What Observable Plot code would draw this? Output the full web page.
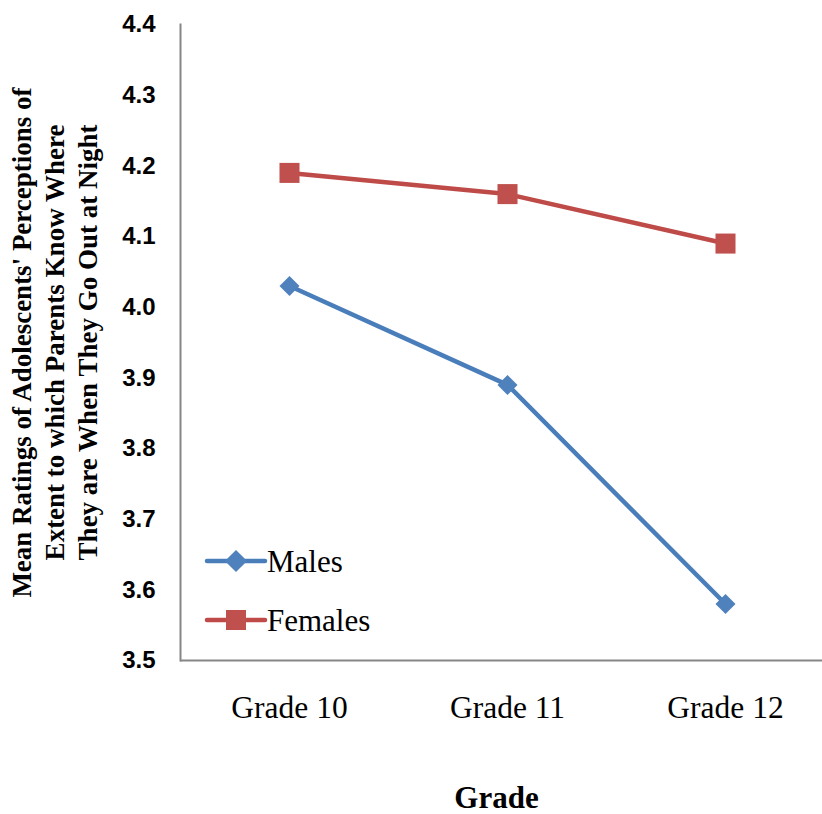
<!DOCTYPE html>
<html>
<head>
<meta charset="utf-8">
<script src="https://cdn.jsdelivr.net/npm/d3@7"></script>
<script src="https://cdn.jsdelivr.net/npm/@observablehq/plot@0.6"></script>
<style>
  html, body { margin: 0; padding: 0; background: #fff; }
  #chart { width: 822px; height: 814px; }
</style>
</head>
<body>
<div id="chart"></div>
<script>
// Mean ratings by grade, one series per gender
const grades = ["Grade 10", "Grade 11", "Grade 12"];
const males = [4.03, 3.89, 3.58];
const females = [4.19, 4.16, 4.09];
const series = ["Males", "Females"];
const yTicks = [3.5, 3.6, 3.7, 3.8, 3.9, 4.0, 4.1, 4.2, 4.3, 4.4];

const colors = {Males: "#4a7ebb", Females: "#be4b48"};
const fills = {Males: "#4f81bd", Females: "#c0504d"};

const maleRows = grades.map((g, i) => ({grade: g, value: males[i]}));
const femaleRows = grades.map((g, i) => ({grade: g, value: females[i]}));

const serif = "'Liberation Serif', 'Times New Roman', serif";
const sans = "'Liberation Sans', Arial, sans-serif";

const chart = Plot.plot({
  width: 822,
  height: 814,
  marginLeft: 180,
  marginRight: 0,
  marginTop: 24,
  marginBottom: 154,
  style: {background: "#fff", overflow: "visible"},
  x: {type: "point", domain: grades, range: [289, 725], padding: 0},
  y: {domain: [3.5, 4.4]},
  marks: [
    Plot.frame({anchor: "left", stroke: "#868686", strokeWidth: 2}),
    Plot.ruleY([3.5], {stroke: "#868686", strokeWidth: 2}),
    Plot.axisY({
      ticks: yTicks, tickFormat: d3.format(".1f"), tickSize: 0, tickPadding: 25,
      fontSize: 24, fontWeight: "bold", fontFamily: sans, fill: "#000", label: null
    }),
    Plot.axisX({
      tickSize: 0, tickPadding: 35, fontSize: 31.5, fontFamily: serif, fill: "#000", label: null
    }),
    Plot.line(maleRows, {x: "grade", y: "value", stroke: colors.Males, strokeWidth: 4.5}),
    Plot.line(femaleRows, {x: "grade", y: "value", stroke: colors.Females, strokeWidth: 4.5}),
    Plot.dot(maleRows, {x: "grade", y: "value", symbol: "diamond2", r: 9, fill: fills.Males, stroke: "none"}),
    Plot.dot(femaleRows, {x: "grade", y: "value", symbol: "square", r: 11.3, fill: fills.Females, stroke: "none"}),
    Plot.text(["Grade"], {
      frameAnchor: "bottom", dx: -5, dy: 147, fontSize: 31, fontWeight: "bold", fontFamily: serif, fill: "#000"
    }),
    Plot.text([
      "Mean Ratings of Adolescents' Perceptions of\nExtent to which Parents Know Where\nThey are When They Go Out at Night"
    ], {
      frameAnchor: "left", textAnchor: "middle", dx: -127, rotate: -90, lineHeight: 1.23,
      fontSize: 27, fontWeight: "bold", fontFamily: serif, fill: "#000"
    })
  ]
});

// Legend inside the plot area
const svg = d3.select(chart);
const legend = svg.append("g").attr("text-anchor", "start");
series.forEach((s, i) => {
  const y = 561 + i * 59;
  const g = legend.append("g");
  g.append("line").attr("x1", 207).attr("x2", 265).attr("y1", y).attr("y2", y)
    .attr("stroke", colors[s]).attr("stroke-width", 4.5).attr("stroke-linecap", "round");
  const sym = s === "Males"
    ? d3.symbol(d3.symbolDiamond2, Math.PI * 100)
    : d3.symbol(d3.symbolSquare, Math.PI * 11.3 * 11.3);
  g.append("path").attr("d", sym()).attr("transform", `translate(236,${y})`).attr("fill", fills[s]);
  g.append("text").attr("x", 267).attr("y", y + 11).text(s)
    .attr("font-family", serif).attr("font-size", 31).attr("fill", "#000");
});

document.getElementById("chart").appendChild(chart);
</script>
</body>
</html>
